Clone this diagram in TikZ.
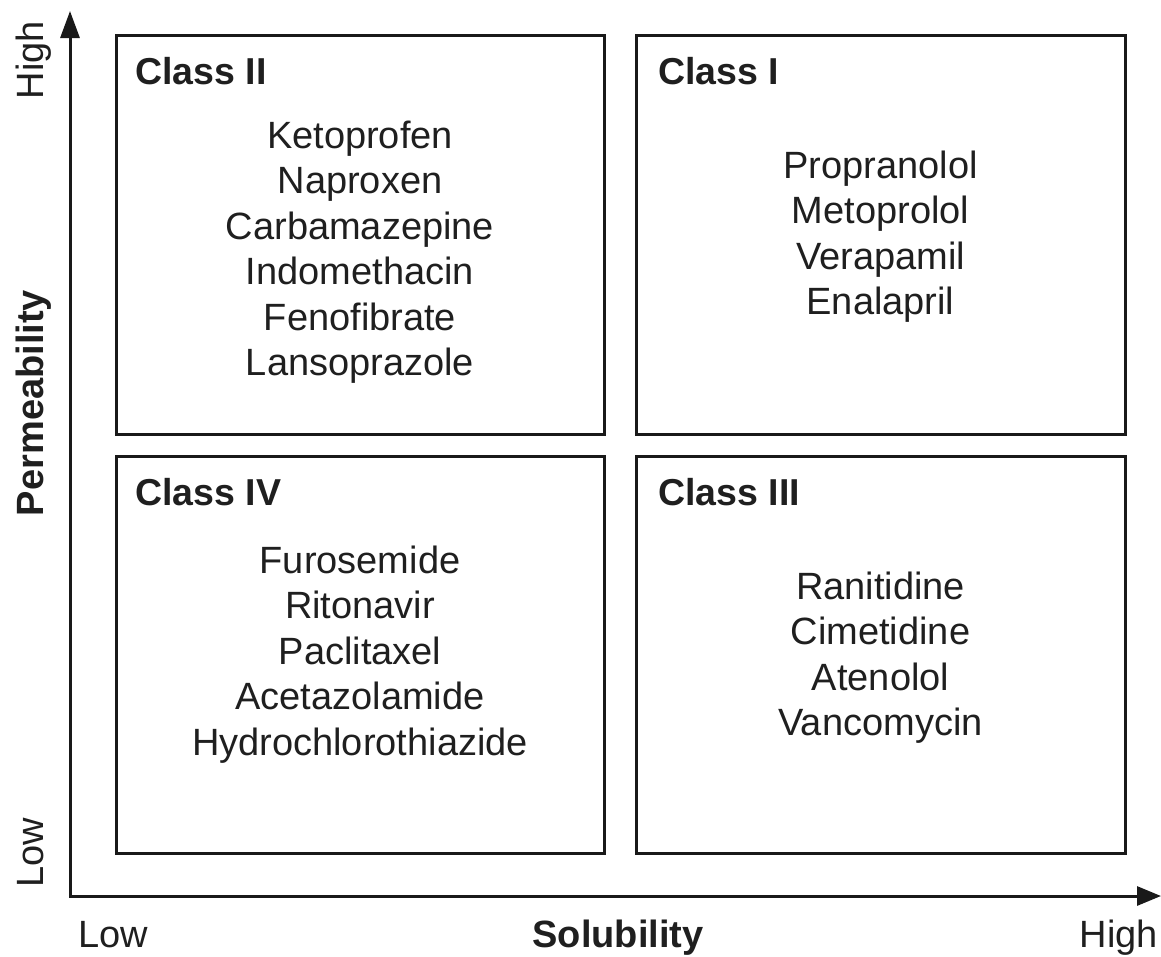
\documentclass[tikz,border=0pt]{standalone}
\usepackage{fontspec}
\setmainfont{Liberation Sans}
\usetikzlibrary{arrows.meta}
\begin{document}
\begin{tikzpicture}[x=1pt,y=-1pt,
  classbox/.style={draw=black!90,line width=3pt},
  drug/.style={anchor=base,inner sep=0pt,font=\fontsize{38}{45}\selectfont,text=black!88},
  classlbl/.style={anchor=base west,inner sep=0pt,font=\fontsize{37.5}{45}\selectfont\bfseries,text=black!88},
  axlbl/.style={anchor=base,inner sep=0pt,font=\fontsize{38}{45}\selectfont,text=black!88},
  axtitle/.style={anchor=base,inner sep=0pt,font=\fontsize{38}{45}\selectfont\bfseries,text=black!88},
  axis/.style={line width=3pt,black!90,{Triangle[length=27pt,width=19pt]}-{Triangle[length=24pt,width=19pt]}}]
\useasboundingbox (0,0) rectangle (1161,956);
% boxes
\draw[classbox] (116,35) rectangle (604,434);
\draw[classbox] (636,35) rectangle (1125,434);
\draw[classbox] (116,456) rectangle (604,853);
\draw[classbox] (636,456) rectangle (1125,853);
% axes
\coordinate (ytop) at (70,11);
\coordinate (origin) at (70,896);
\coordinate (xend) at (1161,896);
\draw[axis] (ytop) -- (origin) -- (xend);
% class labels
\node[classlbl] (c2) at (135,84) {Class II};
\node[classlbl] (c1) at (658,84) {Class I};
\node[classlbl] (c4) at (135,505) {Class IV};
\node[classlbl] (c3) at (658,505) {Class III};
% Class II drugs
\node[drug] (d21) at (360,148) {Ketoprofen};
\node[drug] (d22) at (360,193.5) {Naproxen};
\node[drug] (d23) at (360,239) {Carbamazepine};
\node[drug] (d24) at (360,284.5) {Indomethacin};
\node[drug] (d25) at (360,330) {Fenofibrate};
\node[drug] (d26) at (360,375.5) {Lansoprazole};
% Class I drugs
\node[drug] (d11) at (880.5,178) {Propranolol};
\node[drug] (d12) at (880.5,223.5) {Metoprolol};
\node[drug] (d13) at (880.5,269) {Verapamil};
\node[drug] (d14) at (880.5,314.5) {Enalapril};
% Class IV drugs
\node[drug] (d41) at (360,573) {Furosemide};
\node[drug] (d42) at (360,618.5) {Ritonavir};
\node[drug] (d43) at (360,664) {Paclitaxel};
\node[drug] (d44) at (360,709.5) {Acetazolamide};
\node[drug] (d45) at (360,755) {Hydrochlorothiazide};
% Class III drugs
\node[drug] (d31) at (880.5,599) {Ranitidine};
\node[drug] (d32) at (880.5,644.5) {Cimetidine};
\node[drug] (d33) at (880.5,690) {Atenolol};
\node[drug] (d34) at (880.5,735.5) {Vancomycin};
% axis labels
\node[axlbl,rotate=90] (yhigh) at (43,60) {High};
\node[axlbl,rotate=90] (ylow) at (43,853) {Low};
\node[axtitle,rotate=90] (ytitle) at (43,403) {Permeability};
\node[axlbl] (xlow) at (113,947) {Low};
\node[axtitle] (xtitle) at (618,947) {Solubility};
\node[axlbl] (xhigh) at (1119,947) {High};
\end{tikzpicture}
\end{document}
